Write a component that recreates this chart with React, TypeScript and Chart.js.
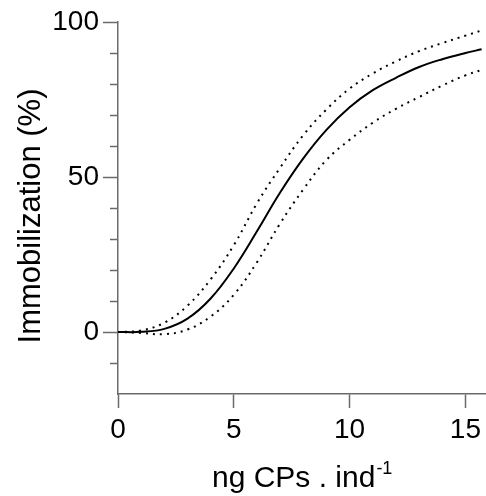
import React, { useEffect, useRef } from "react";
import { Chart, registerables } from "chart.js";

Chart.register(...registerables);

const xValues = [0, 1, 2, 3, 4, 5, 6, 7, 8, 9, 10, 11, 12, 13, 14, 15, 15.7];
const fitCurve = [0, 0.05, 1, 4.3, 10.8, 20.5, 32.5, 45, 56, 65.2, 72.5, 78, 82, 85.5, 88, 90, 91.2];
const upperBand = [0, 0.5, 3, 8.5, 17, 28, 41.5, 53, 63.5, 71.8, 78.5, 83.4, 87.3, 90.6, 93.2, 95.6, 97.3];
const lowerBand = [0, -0.3, -0.7, 0.8, 5, 12, 22.5, 35, 46, 55.5, 62, 67.5, 72, 75.8, 79.5, 82.8, 84.5];

const xTicks = [0, 5, 10, 15];
const yTicks = [-10, 0, 10, 20, 30, 40, 50, 60, 70, 80, 90, 100];
const yLabelTicks = [0, 50, 100];

const xTitle = "ng CPs . ind";
const xTitleSup = "-1";
const yTitle = "Immobilization (%)";

const FONT = "'Liberation Sans', Arial, sans-serif";
const AXIS = "#6a6a6a";

const toPoints = (ys: number[]) => xValues.map((x, i) => ({ x, y: ys[i] }));

const extrasPlugin = {
  id: "extras",
  afterDraw(chart: any) {
    const ctx = chart.ctx;
    const y = chart.scales.y;
    const area = chart.chartArea;
    ctx.save();
    // minor ticks
    ctx.strokeStyle = AXIS;
    ctx.lineWidth = 1.5;
    for (const v of yTicks) {
      if (yLabelTicks.includes(v)) continue;
      const py = Math.round(y.getPixelForValue(v)) + 0.5;
      ctx.beginPath();
      ctx.moveTo(area.left - 8, py);
      ctx.lineTo(area.left, py);
      ctx.stroke();
    }
    ctx.fillStyle = "#000";
    // y title
    ctx.save();
    ctx.font = `31px ${FONT}`;
    ctx.textAlign = "center";
    ctx.textBaseline = "alphabetic";
    ctx.translate(40, 216);
    ctx.rotate(-Math.PI / 2);
    ctx.fillText(yTitle, 0, 0);
    ctx.restore();
    // x title with superscript
    ctx.textBaseline = "alphabetic";
    ctx.textAlign = "left";
    ctx.font = `30px ${FONT}`;
    const w1 = ctx.measureText(xTitle).width;
    ctx.font = `18px ${FONT}`;
    const w2 = ctx.measureText(xTitleSup).width;
    const cx = (area.left + area.right) / 2;
    const startX = cx - (w1 + w2) / 2;
    ctx.font = `30px ${FONT}`;
    ctx.fillText(xTitle, startX, 487);
    ctx.font = `18px ${FONT}`;
    ctx.fillText(xTitleSup, startX + w1 + 1, 474);
    ctx.restore();
  },
};

export default function App() {
  const ref = useRef<HTMLCanvasElement>(null);
  useEffect(() => {
    if (!ref.current) return;
    const line = (ys: number[], dashed: boolean) => ({
      data: toPoints(ys),
      borderColor: "#000",
      borderWidth: 2,
      borderDash: dashed ? [2, 5] : [],
      pointRadius: 0,
      tension: 0.4,
      fill: false,
    });
    const chart = new Chart(ref.current, {
      type: "line",
      data: {
        datasets: [line(upperBand, true), line(fitCurve, false), line(lowerBand, true)],
      },
      options: {
        responsive: false,
        animation: false,
        layout: { padding: { top: 22, right: 0, left: 0, bottom: 0 } },
        plugins: { legend: { display: false }, tooltip: { enabled: false } },
        scales: {
          x: {
            type: "linear",
            min: 0,
            max: 15.86,
            afterBuildTicks: (s: any) => {
              s.ticks = xTicks.map((v) => ({ value: v }));
            },
            afterFit: (s: any) => {
              s.height = 102;
            },
            grid: {
              drawOnChartArea: false,
              drawTicks: true,
              tickLength: 14,
              tickColor: AXIS,
              tickWidth: 1.5,
            },
            border: { display: true, color: AXIS, width: 1.5 },
            ticks: {
              color: "#000",
              font: { family: FONT, size: 28 },
              padding: 5,
              maxRotation: 0,
              autoSkip: false,
            },
          },
          y: {
            type: "linear",
            min: -20,
            max: 100,
            afterBuildTicks: (s: any) => {
              s.ticks = yTicks.map((v) => ({ value: v }));
            },
            afterFit: (s: any) => {
              s.width = 118;
            },
            grid: {
              drawOnChartArea: false,
              drawTicks: true,
              tickLength: 15,
              tickColor: (c: any) =>
                c.tick && yLabelTicks.includes(c.tick.value) ? AXIS : "rgba(0,0,0,0)",
              tickWidth: 1.5,
            },
            border: { display: true, color: AXIS, width: 1.5 },
            ticks: {
              color: "#000",
              font: { family: FONT, size: 28 },
              padding: 4,
              autoSkip: false,
              callback: (v: any) => (yLabelTicks.includes(Number(v)) ? String(v) : ""),
            },
          },
        },
      },
      plugins: [extrasPlugin],
    } as any);
    return () => chart.destroy();
  }, []);
  return (
    <div style={{ position: "absolute", left: 0, top: 0, width: 486, height: 496 }}>
      <canvas ref={ref} width={486} height={496} style={{ width: 486, height: 496 }} />
    </div>
  );
}
